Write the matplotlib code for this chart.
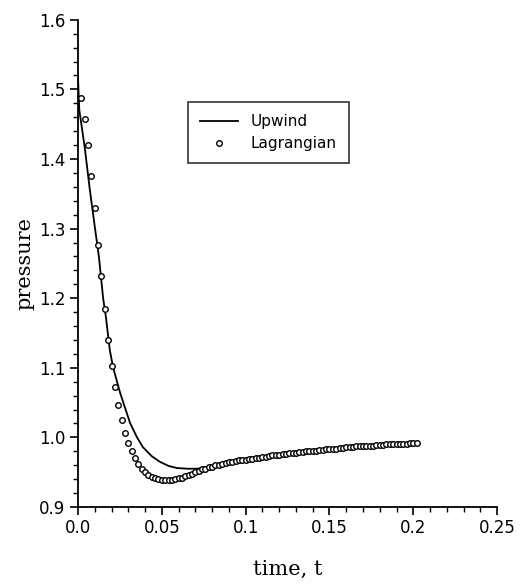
import numpy as np
import matplotlib
matplotlib.use('Agg')
import matplotlib.pyplot as plt
from matplotlib.ticker import MultipleLocator, FixedLocator

# Upwind scheme (solid line)
upwind_t = [0.0, 0.0008, 0.004, 0.007, 0.010, 0.0125, 0.015, 0.0167, 0.019, 0.021,
            0.025, 0.031, 0.035, 0.0387, 0.044, 0.0488, 0.054, 0.059, 0.065, 0.071,
            0.077, 0.0827, 0.090, 0.098, 0.11, 0.12, 0.13, 0.14, 0.15, 0.16,
            0.17, 0.18, 0.19, 0.2]
upwind_p = [1.517, 1.470, 1.417, 1.357, 1.303, 1.259, 1.200, 1.172, 1.125, 1.100,
            1.065, 1.021, 1.001, 0.986, 0.973, 0.965, 0.959, 0.956, 0.955, 0.955,
            0.957, 0.960, 0.965, 0.969, 0.973, 0.976, 0.979, 0.981, 0.984, 0.986,
            0.988, 0.989, 0.991, 0.992]

# Lagrangian scheme (open circles), one every dt = 0.002
lag_t = [0.002, 0.004, 0.006, 0.008, 0.010, 0.012, 0.014, 0.016, 0.018, 0.020,
         0.022, 0.024, 0.026, 0.028, 0.030, 0.032, 0.034, 0.036, 0.038, 0.040,
         0.042, 0.044, 0.046, 0.048, 0.050, 0.052, 0.054, 0.056, 0.058, 0.060,
         0.062, 0.064, 0.066, 0.068, 0.070, 0.072, 0.074, 0.076, 0.078, 0.080,
         0.082, 0.084, 0.086, 0.088, 0.090, 0.092, 0.094, 0.096, 0.098, 0.100,
         0.102, 0.104, 0.106, 0.108, 0.110, 0.112, 0.114, 0.116, 0.118, 0.120,
         0.122, 0.124, 0.126, 0.128, 0.130, 0.132, 0.134, 0.136, 0.138, 0.140,
         0.142, 0.144, 0.146, 0.148, 0.150, 0.152, 0.154, 0.156, 0.158, 0.160,
         0.162, 0.164, 0.166, 0.168, 0.170, 0.172, 0.174, 0.176, 0.178, 0.180,
         0.182, 0.184, 0.186, 0.188, 0.190, 0.192, 0.194, 0.196, 0.198, 0.200,
         0.202]
lag_p = [1.487, 1.458, 1.420, 1.375, 1.330, 1.277, 1.232, 1.185, 1.140, 1.103,
         1.073, 1.047, 1.025, 1.006, 0.992, 0.980, 0.970, 0.962, 0.955, 0.950,
         0.946, 0.943, 0.941, 0.940, 0.939, 0.939, 0.939, 0.939, 0.940, 0.941,
         0.942, 0.944, 0.946, 0.948, 0.950, 0.952, 0.954, 0.955, 0.957, 0.958,
         0.960, 0.961, 0.962, 0.963, 0.964, 0.965, 0.966, 0.967, 0.968, 0.968,
         0.969, 0.969, 0.970, 0.971, 0.972, 0.972, 0.973, 0.974, 0.974, 0.975,
         0.976, 0.976, 0.977, 0.978, 0.978, 0.979, 0.979, 0.980, 0.980, 0.981,
         0.981, 0.982, 0.982, 0.983, 0.983, 0.984, 0.984, 0.985, 0.985, 0.986,
         0.986, 0.986, 0.987, 0.987, 0.987, 0.988, 0.988, 0.988, 0.989, 0.989,
         0.989, 0.990, 0.990, 0.990, 0.990, 0.991, 0.991, 0.991, 0.992, 0.992,
         0.992]

xticks = [0.0, 0.05, 0.1, 0.15, 0.2, 0.25]
xticklabels = ['0.0', '0.05', '0.1', '0.15', '0.2', '0.25']
yticks = [0.9, 1.0, 1.1, 1.2, 1.3, 1.4, 1.5, 1.6]
yticklabels = ['0.9', '1.0', '1.1', '1.2', '1.3', '1.4', '1.5', '1.6']

fig = plt.figure(figsize=(5.22, 5.87), dpi=100)
ax = fig.add_axes([0.1494, 0.1363, 0.803, 0.830])

ax.plot(upwind_t, upwind_p, color='black', lw=1.3, label='Upwind')
ax.plot(lag_t, lag_p, ls='none', marker='o', ms=4.0, mfc='white', mec='black',
        mew=1.0, label='Lagrangian')

ax.set_xlim(0, 0.25)
ax.set_ylim(0.9, 1.6)
ax.xaxis.set_major_locator(FixedLocator(xticks))
ax.set_xticklabels(xticklabels)
ax.xaxis.set_minor_locator(MultipleLocator(0.01))
ax.yaxis.set_major_locator(FixedLocator(yticks))
ax.set_yticklabels(yticklabels)
ax.yaxis.set_minor_locator(MultipleLocator(0.02))

for s in ['top', 'right']:
    ax.spines[s].set_visible(False)
for s in ['left', 'bottom']:
    ax.spines[s].set_linewidth(1.3)

ax.tick_params(which='major', direction='out', length=6, width=1.2, labelsize=12, pad=3)
ax.tick_params(which='minor', direction='out', length=3.5, width=1.0)

ax.set_xlabel('time, t', family='DejaVu Serif', fontsize=15, labelpad=16)
ax.set_ylabel('pressure', family='DejaVu Serif', fontsize=15, labelpad=3)

leg = ax.legend(loc='upper left', bbox_to_anchor=(0.2625, 0.8316), fontsize=11,
                frameon=True, fancybox=False, edgecolor='black', handlelength=2.5,
                labelspacing=0.45, borderpad=0.8, handletextpad=0.8, borderaxespad=0)
leg.get_frame().set_linewidth(1.2)

fig.savefig('out.png', dpi=100)
